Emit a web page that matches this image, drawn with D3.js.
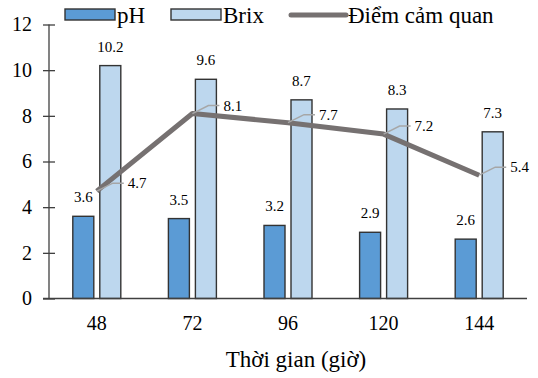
<!DOCTYPE html>
<html>
<head>
<meta charset="utf-8">
<script src="https://cdn.jsdelivr.net/npm/d3@7"></script>
<style>
	svg text { font-family: 'Liberation Serif', Tinos, 'Times New Roman', FreeSerif, 'DejaVu Serif', serif !important; fill: #000; }
</style>
</head>
<body style="margin:0">
<script>
// chart data
var hours = ["48", "72", "96", "120", "144"];
var ph = [3.6, 3.5, 3.2, 2.9, 2.6];
var brix = [10.2, 9.6, 8.7, 8.3, 7.3];
var score = [4.7, 8.1, 7.7, 7.2, 5.4];
var yTicks = [0, 2, 4, 6, 8, 10, 12];

var serif = "'Liberation Serif', Tinos, 'Times New Roman', FreeSerif, 'DejaVu Serif', serif";

var svg = d3.select("body")
		.append("svg")
		.attr("width", 538)
		.attr("height", 378);

var x = d3.scaleBand().domain(hours).range([49, 527]);
var y = d3.scaleLinear().domain([0, 12]).range([298.5, 24.5]);
// the two bars inside one group
var x1 = d3.scaleBand().domain(["pH", "Brix"]).range([-24, 24]).paddingInner(0.2222);
var mid = function(h) { return x(h) + x.bandwidth() / 2; };

// y axis with crossing ticks
var yAxis = svg.append("g")
		.attr("transform", "translate(49,0)")
		.call(d3.axisLeft(y).tickValues(yTicks).tickSize(6).tickSizeOuter(0).tickPadding(11))
		.attr("font-size", 20);
yAxis.selectAll(".tick line").attr("x2", 6).attr("x1", -6);
yAxis.selectAll("path, line").attr("stroke", "#404040").attr("stroke-width", 1.3);
yAxis.select(".domain").attr("d", "M0," + y(12) + "V" + y(0));

// bars
var bars = [
	{ key: "pH", vals: ph, fill: "#5b9bd5" },
	{ key: "Brix", vals: brix, fill: "#bdd7ee" }
];
bars.forEach(function(s) {
	svg.selectAll(".bar-" + s.key)
		.data(hours)
		.enter()
		.append("rect")
		.attr("x", function(d) { return mid(d) + x1(s.key); })
		.attr("y", function(d, i) { return y(s.vals[i]); })
		.attr("width", x1.bandwidth())
		.attr("height", function(d, i) { return y(0) - y(s.vals[i]); })
		.attr("fill", s.fill)
		.attr("stroke", "#333")
		.attr("stroke-width", 1.4);
	svg.selectAll(".lab-" + s.key)
		.data(hours)
		.enter()
		.append("text")
		.attr("x", function(d) { return mid(d) + x1(s.key) + x1.bandwidth() / 2; })
		.attr("y", function(d, i) { return y(s.vals[i]) - 14; })
		.attr("text-anchor", "middle")
		.attr("font-size", 15)
		.text(function(d, i) { return s.vals[i].toFixed(1); });
});

// x axis (no ticks)
var xAxis = svg.append("g")
		.attr("transform", "translate(0," + y(0) + ")")
		.call(d3.axisBottom(x).tickSize(0).tickPadding(17))
		.attr("font-size", 20);
xAxis.select(".domain").attr("d", "M43,0H527").attr("stroke", "#404040").attr("stroke-width", 1.5);

// sensory score line
var line = d3.line()
		.x(function(d, i) { return mid(hours[i]); })
		.y(function(d) { return y(d); });
svg.append("path")
		.datum(score)
		.attr("d", line)
		.attr("fill", "none")
		.attr("stroke", "#767171")
		.attr("stroke-width", 5)
		.attr("stroke-linejoin", "round");

// leader lines + labels for the line
svg.selectAll(".leader")
		.data(score)
		.enter()
		.append("path")
		.attr("d", function(d, i) {
			var px = mid(hours[i]), py = y(d);
			return "M" + px + "," + py + "L" + (px + 16) + "," + (py - 8) + "H" + (px + 27);
		})
		.attr("fill", "none")
		.attr("stroke", "#a6a6a6")
		.attr("stroke-width", 1.5);
svg.selectAll(".score-lab")
		.data(score)
		.enter()
		.append("text")
		.attr("x", function(d, i) { return mid(hours[i]) + 31; })
		.attr("y", function(d) { return y(d) - 8; })
		.attr("dy", "0.35em")
		.attr("font-size", 15)
		.text(function(d) { return d.toFixed(1); });

// axis title
svg.append("text")
		.attr("x", 296)
		.attr("y", 367)
		.attr("text-anchor", "middle")
		.attr("font-size", 23)
		.text("Thời gian (giờ)");

// legend
var legend = svg.append("g");
var items = [
	{ name: "pH", fill: "#5b9bd5", x: 65 },
	{ name: "Brix", fill: "#bdd7ee", x: 171 }
];
items.forEach(function(it) {
	legend.append("rect")
		.attr("x", it.x).attr("y", 9)
		.attr("width", 50).attr("height", 11)
		.attr("fill", it.fill)
		.attr("stroke", "#333")
		.attr("stroke-width", 1.4);
	legend.append("text")
		.attr("x", it.x + 52).attr("y", 15)
		.attr("dy", "0.35em")
		.attr("font-size", 23)
		.text(it.name);
});
legend.append("line")
		.attr("x1", 291).attr("x2", 346)
		.attr("y1", 15).attr("y2", 15)
		.attr("stroke", "#767171")
		.attr("stroke-width", 5)
		.attr("stroke-linecap", "round");
legend.append("text")
		.attr("x", 348).attr("y", 15)
		.attr("dy", "0.35em")
		.attr("font-size", 23)
		.text("Điểm cảm quan");

svg.selectAll("text").style("font-family", serif);
</script>
</body>
</html>
